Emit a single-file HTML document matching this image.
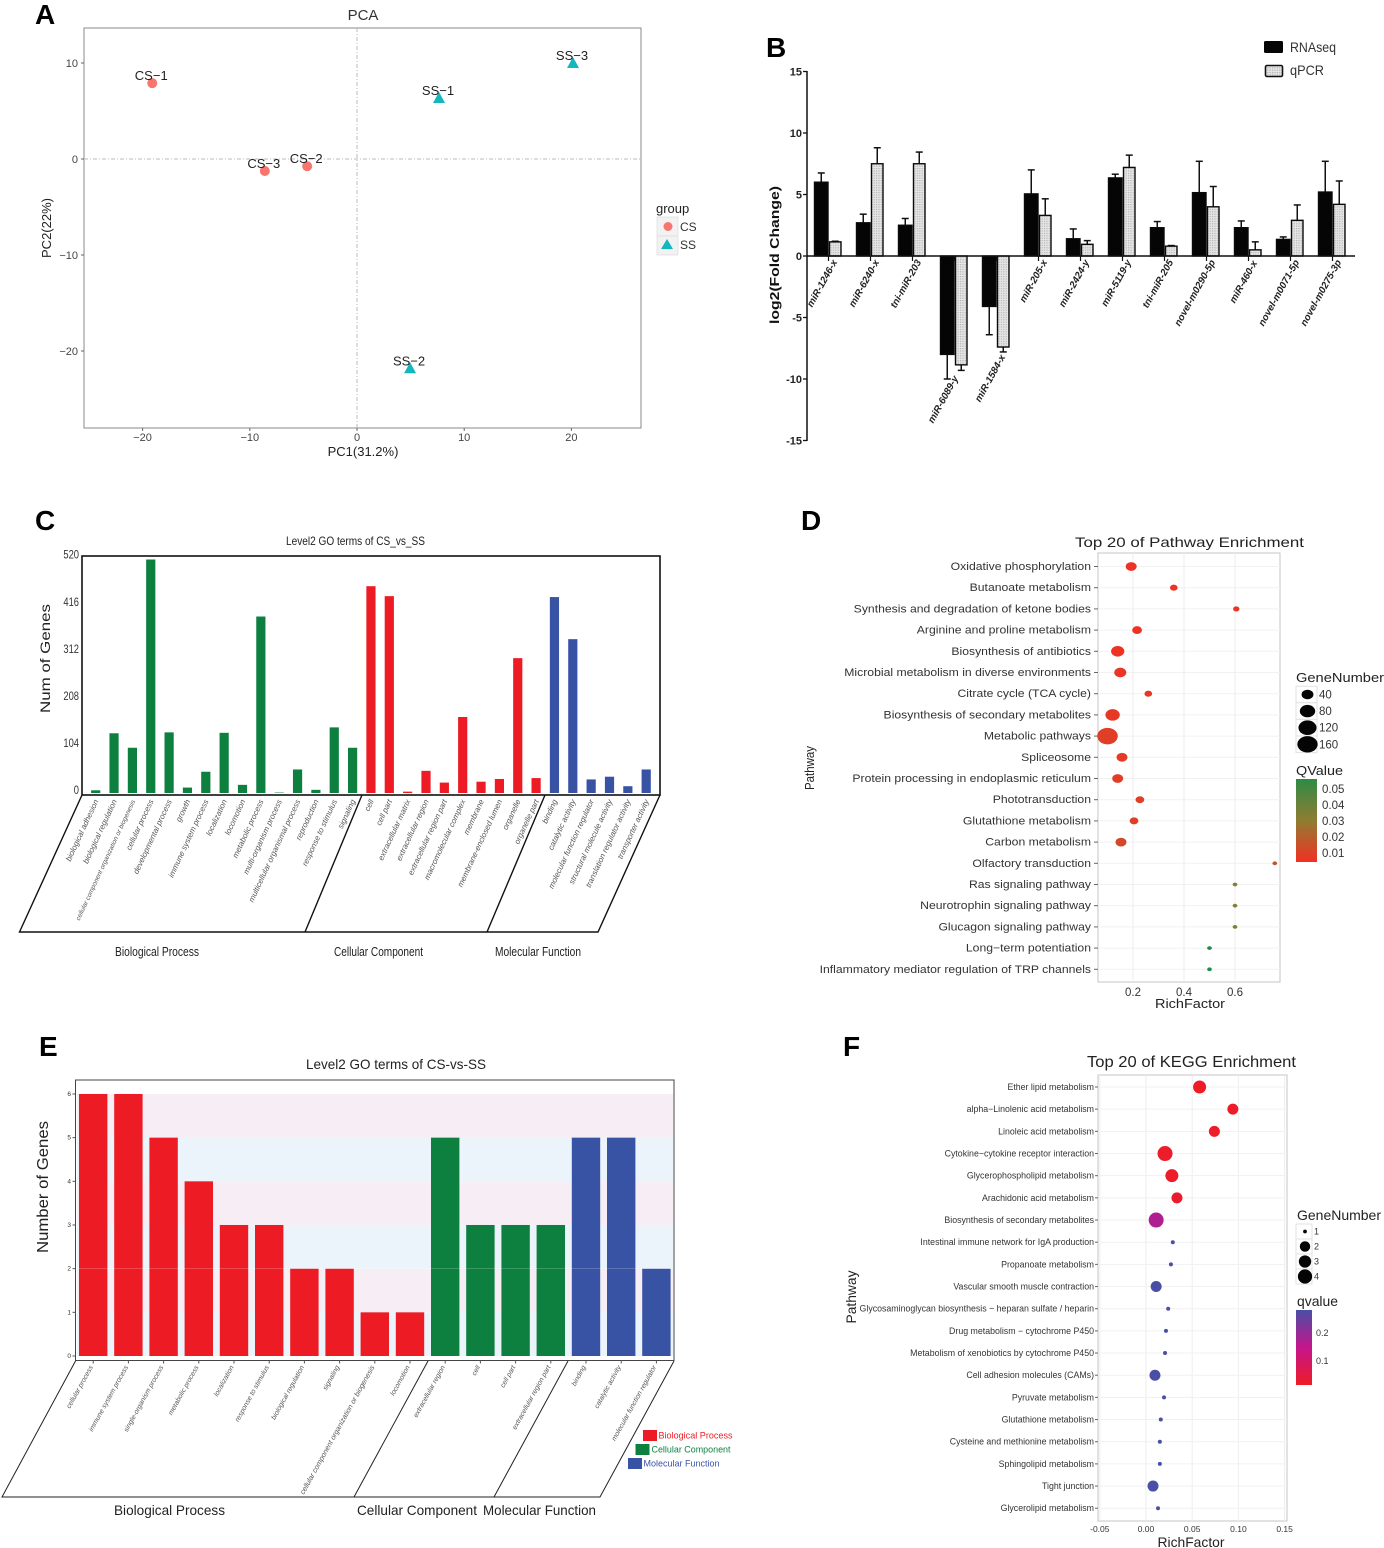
<!DOCTYPE html>
<html lang="en">
<head>
<meta charset="utf-8">
<title>Transcriptome figure panels A-F</title>
<style>
html,body{margin:0;padding:0;background:#fff;width:1384px;height:1548px;overflow:hidden}
svg{display:block;font-family:"Liberation Sans",sans-serif;filter:blur(0.35px)}
.panel-letter{font-size:28px;font-weight:bold;fill:#000}
</style>
</head>
<body>
<svg id="figure" xmlns="http://www.w3.org/2000/svg" width="1384" height="1548" viewBox="0 0 1384 1548">
<defs>
<pattern id="hatch" width="2.4" height="2.4" patternUnits="userSpaceOnUse"><rect width="2.4" height="2.4" fill="#e6e6e6"/><rect width="1.2" height="1.2" fill="#b4b4b4"/></pattern>
<linearGradient id="qgrad-d" x1="0" y1="0" x2="0" y2="1"><stop offset="0" stop-color="#2e8b45"/><stop offset="0.5" stop-color="#8f7d32"/><stop offset="1" stop-color="#f23024"/></linearGradient>
<linearGradient id="qgrad-f" x1="0" y1="0" x2="0" y2="1"><stop offset="0" stop-color="#4a4fa5"/><stop offset="0.5" stop-color="#c5158c"/><stop offset="1" stop-color="#ee1c25"/></linearGradient>
</defs>

<!-- Panel letters -->
<text class="panel-letter" x="35" y="24">A</text>
<text class="panel-letter" x="766" y="57">B</text>
<text class="panel-letter" x="35" y="530">C</text>
<text class="panel-letter" x="801" y="530">D</text>
<text class="panel-letter" x="39" y="1056">E</text>
<text class="panel-letter" x="843" y="1056">F</text>

<!-- Panel A -->
<g id="panel-a">
<text x="363" y="20" text-anchor="middle" font-size="15" fill="#333">PCA</text>
<rect x="84" y="28" width="557" height="400" fill="#fff" stroke="#8a8a8a" stroke-width="1"/>
<line x1="357" y1="28" x2="357" y2="428" stroke="#bbb" stroke-width="1" stroke-dasharray="4 2 1 2"/>
<line x1="84" y1="159" x2="641" y2="159" stroke="#bbb" stroke-width="1" stroke-dasharray="4 2 1 2"/>
<text x="363" y="456" text-anchor="middle" font-size="13" fill="#222">PC1(31.2%)</text>
<text x="51" y="228" text-anchor="middle" font-size="13" fill="#222" transform="rotate(-90 51 228)">PC2(22%)</text>
<text x="656" y="213" font-size="13" fill="#222">group</text>
<rect x="657" y="217" width="21" height="19" fill="#f2f2f2" stroke="#ddd" stroke-width="0.7"/>
<rect x="657" y="236" width="21" height="19" fill="#f2f2f2" stroke="#ddd" stroke-width="0.7"/>
<circle cx="668" cy="226.5" r="4.5" fill="#f8766d"/>
<polygon points="667,239 673,249 661,249" fill="#12b8bd"/>
<text x="680" y="231" font-size="12" fill="#333">CS</text>
<text x="680" y="249" font-size="12" fill="#333">SS</text>
</g>

<!-- Panel B -->
<g id="panel-b">
<text x="779" y="255" text-anchor="middle" font-size="13" font-weight="bold" fill="#111" textLength="138" lengthAdjust="spacingAndGlyphs" transform="rotate(-90 779 255)">log2(Fold Change)</text>
<line x1="807" y1="71" x2="807" y2="441" stroke="#111" stroke-width="1.5"/>
<rect x="1264" y="41" width="19" height="12" rx="1.5" fill="#050505"/>
<rect x="1265.5" y="65.5" width="17" height="11" rx="1.5" fill="url(#hatch)" stroke="#111" stroke-width="1.6"/>
<text x="1290" y="52" font-size="14" fill="#333" textLength="46" lengthAdjust="spacingAndGlyphs">RNAseq</text>
<text x="1290" y="75" font-size="14" fill="#333" textLength="34" lengthAdjust="spacingAndGlyphs">qPCR</text>
</g>

<!-- Panel C -->
<g id="panel-c">
<text x="355.5" y="545" text-anchor="middle" font-size="12" fill="#222" textLength="139" lengthAdjust="spacingAndGlyphs">Level2 GO terms of CS_vs_SS</text>
<rect x="82" y="556" width="578" height="239" fill="#fff" stroke="#111" stroke-width="1.6"/>
<text x="50" y="658.5" text-anchor="middle" font-size="14" fill="#222" textLength="109" lengthAdjust="spacingAndGlyphs" transform="rotate(-90 50 658.5)">Num of Genes</text>
<polyline points="82,795 19.5,932 598,932 660,795" fill="none" stroke="#111" stroke-width="1.4"/>
<line x1="305" y1="932" x2="362" y2="795" stroke="#111" stroke-width="1.4"/>
<line x1="487" y1="932" x2="545" y2="795" stroke="#111" stroke-width="1.4"/>
<text x="157" y="956" text-anchor="middle" font-size="13" fill="#222" textLength="84" lengthAdjust="spacingAndGlyphs">Biological Process</text>
<text x="378.5" y="956" text-anchor="middle" font-size="13" fill="#222" textLength="89" lengthAdjust="spacingAndGlyphs">Cellular Component</text>
<text x="538" y="956" text-anchor="middle" font-size="13" fill="#222" textLength="86" lengthAdjust="spacingAndGlyphs">Molecular Function</text>
</g>

<!-- Panel D -->
<g id="panel-d">
<text x="1189.5" y="547" text-anchor="middle" font-size="14" fill="#222" textLength="229" lengthAdjust="spacingAndGlyphs">Top 20 of Pathway Enrichment</text>
<rect x="1098" y="553" width="182" height="429" fill="#fff" stroke="#c4c4c4" stroke-width="1"/>
<text x="814" y="768" text-anchor="middle" font-size="13" fill="#222" textLength="44" lengthAdjust="spacingAndGlyphs" transform="rotate(-90 814 768)">Pathway</text>
<text x="1190" y="1008" text-anchor="middle" font-size="13" fill="#222" textLength="70" lengthAdjust="spacingAndGlyphs">RichFactor</text>
<text x="1296" y="682" font-size="13" fill="#222" textLength="88" lengthAdjust="spacingAndGlyphs">GeneNumber</text>
<text x="1296" y="775" font-size="13" fill="#222" textLength="47" lengthAdjust="spacingAndGlyphs">QValue</text>
<rect x="1296" y="779" width="21" height="83" fill="url(#qgrad-d)"/>
</g>

<!-- Panel E -->
<g id="panel-e">
<text x="396" y="1069" text-anchor="middle" font-size="14" fill="#222" textLength="180" lengthAdjust="spacingAndGlyphs">Level2 GO terms of CS-vs-SS</text>
<rect x="75.5" y="1080" width="598.5" height="280.5" fill="#fff" stroke="#444" stroke-width="1"/>
<text x="48" y="1187" text-anchor="middle" font-size="15.5" fill="#222" textLength="132" lengthAdjust="spacingAndGlyphs" transform="rotate(-90 48 1187)">Number of Genes</text>
<polyline points="75.5,1361 2,1497 600,1497 674,1361" fill="none" stroke="#222" stroke-width="1"/>
<line x1="354" y1="1497" x2="428" y2="1361" stroke="#222" stroke-width="1"/>
<line x1="494" y1="1497" x2="568" y2="1361" stroke="#222" stroke-width="1"/>
<text x="169.5" y="1515" text-anchor="middle" font-size="14" fill="#222" textLength="111" lengthAdjust="spacingAndGlyphs">Biological Process</text>
<text x="417" y="1515" text-anchor="middle" font-size="14" fill="#222" textLength="120" lengthAdjust="spacingAndGlyphs">Cellular Component</text>
<text x="539.5" y="1515" text-anchor="middle" font-size="14" fill="#222" textLength="113" lengthAdjust="spacingAndGlyphs">Molecular Function</text>
<rect x="643" y="1430" width="14" height="11" fill="#ed1c24"/>
<rect x="635.5" y="1444" width="14" height="11" fill="#0d8040"/>
<rect x="628" y="1458" width="14" height="11" fill="#3953a4"/>
<text x="658.5" y="1438.5" font-size="9.5" fill="#ed1c24" textLength="74" lengthAdjust="spacingAndGlyphs">Biological Process</text>
<text x="651.5" y="1452.5" font-size="9.5" fill="#0d8040" textLength="79" lengthAdjust="spacingAndGlyphs">Cellular Component</text>
<text x="643.5" y="1466.5" font-size="9.5" fill="#3953a4" textLength="76" lengthAdjust="spacingAndGlyphs">Molecular Function</text>
</g>

<!-- Panel F -->
<g id="panel-f">
<text x="1191.5" y="1067" text-anchor="middle" font-size="16" fill="#222" textLength="209" lengthAdjust="spacingAndGlyphs">Top 20 of KEGG Enrichment</text>
<rect x="1098" y="1075" width="189" height="446" fill="#fff" stroke="#c4c4c4" stroke-width="1"/>
<text x="856" y="1297" text-anchor="middle" font-size="14" fill="#222" textLength="53" lengthAdjust="spacingAndGlyphs" transform="rotate(-90 856 1297)">Pathway</text>
<text x="1191" y="1547" text-anchor="middle" font-size="14" fill="#222" textLength="67" lengthAdjust="spacingAndGlyphs">RichFactor</text>
<text x="1297" y="1220" font-size="14" fill="#222" textLength="84" lengthAdjust="spacingAndGlyphs">GeneNumber</text>
<text x="1297" y="1306" font-size="14" fill="#222" textLength="41" lengthAdjust="spacingAndGlyphs">qvalue</text>
<rect x="1296" y="1310" width="16" height="75" fill="url(#qgrad-f)"/>
</g>
</svg>

<script>
// ---------- Panel A data ----------
var pcaLabels = ['CS\u22121', 'CS\u22122', 'CS\u22123', 'SS\u22121', 'SS\u22122', 'SS\u22123'];
var pcaGroups = ['CS', 'CS', 'CS', 'SS', 'SS', 'SS'];
var pcaPc1 = [-19.1, -4.65, -8.6, 7.65, 4.95, 20.15];
var pcaPc2 = [7.9, -0.75, -1.25, 6.35, -21.8, 10];
var pcaXTicks = [-20, -10, 0, 10, 20];
var pcaYTicks = [-20, -10, 0, 10];

// ---------- Panel B data ----------
var mirLabels = ['miR-1246-x', 'miR-6240-x', 'tni-miR-203', 'miR-6089-y', 'miR-1584-x', 'miR-205-x', 'miR-2424-y', 'miR-5119-y', 'tni-miR-205', 'novel-m0290-5p', 'miR-460-x', 'novel-m0071-5p', 'novel-m0275-3p'];
var rnaseqValues = [6.0, 2.7, 2.5, -8.0, -4.1, 5.05, 1.4, 6.35, 2.3, 5.15, 2.3, 1.35, 5.2];
var rnaseqErrors = [0.75, 0.7, 0.55, 2.0, 2.3, 1.95, 0.8, 0.3, 0.5, 2.55, 0.55, 0.2, 2.5];
var qpcrValues = [1.15, 7.5, 7.5, -8.85, -7.4, 3.3, 0.95, 7.2, 0.8, 4.0, 0.5, 2.9, 4.2];
var qpcrErrors = [0.05, 1.3, 0.95, 0.45, 0.4, 1.35, 0.3, 1.0, 0.05, 1.65, 0.65, 1.25, 1.9];
var foldTicks = [15, 10, 5, 0, -5, -10, -15];

// ---------- Panel C data ----------
var goCTerms = ['biological adhesion', 'biological regulation', 'cellular component organization or biogenesis', 'cellular process', 'developmental process', 'growth', 'immune system process', 'localization', 'locomotion', 'metabolic process', 'multi-organism process', 'multicellular organismal process', 'reproduction', 'response to stimulus', 'signaling', 'cell', 'cell part', 'extracellular matrix', 'extracellular region', 'extracellular region part', 'macromolecular complex', 'membrane', 'membrane-enclosed lumen', 'organelle', 'organelle part', 'binding', 'catalytic activity', 'molecular function regulator', 'structural molecule activity', 'translation regulator activity', 'transporter activity'];
var goCGroups = ['BP', 'BP', 'BP', 'BP', 'BP', 'BP', 'BP', 'BP', 'BP', 'BP', 'BP', 'BP', 'BP', 'BP', 'BP', 'CC', 'CC', 'CC', 'CC', 'CC', 'CC', 'CC', 'CC', 'CC', 'CC', 'MF', 'MF', 'MF', 'MF', 'MF', 'MF'];
var goCCounts = [6, 132, 100, 516, 134, 12, 47, 133, 18, 390, 1, 52, 7, 145, 100, 457, 435, 3, 49, 23, 168, 25, 31, 298, 33, 433, 340, 30, 36, 15, 52];
var goCTicks = [0, 104, 208, 312, 416, 520];

// ---------- Panel D data ----------
var pathwayNames = ['Oxidative phosphorylation', 'Butanoate metabolism', 'Synthesis and degradation of ketone bodies', 'Arginine and proline metabolism', 'Biosynthesis of antibiotics', 'Microbial metabolism in diverse environments', 'Citrate cycle (TCA cycle)', 'Biosynthesis of secondary metabolites', 'Metabolic pathways', 'Spliceosome', 'Protein processing in endoplasmic reticulum', 'Phototransduction', 'Glutathione metabolism', 'Carbon metabolism', 'Olfactory transduction', 'Ras signaling pathway', 'Neurotrophin signaling pathway', 'Glucagon signaling pathway', 'Long\u2212term potentiation', 'Inflammatory mediator regulation of TRP channels'];
var pathwayRich = [0.193, 0.36, 0.605, 0.216, 0.14, 0.15, 0.26, 0.12, 0.10, 0.157, 0.14, 0.227, 0.204, 0.153, 0.756, 0.6, 0.6, 0.6, 0.5, 0.5];
var pathwayGenes = [32, 10, 5, 23, 54, 42, 10, 67, 165, 32, 32, 16, 16, 32, 1, 1, 1, 1, 1, 1];
var pathwayQ = [0.001, 0.001, 0.001, 0.001, 0.001, 0.002, 0.002, 0.003, 0.005, 0.004, 0.004, 0.005, 0.005, 0.009, 0.012, 0.03, 0.03, 0.031, 0.055, 0.055];
var pathwayXTicks = [0.2, 0.4, 0.6];
var pathwaySizeLegend = [40, 80, 120, 160];
var pathwayQTicks = [0.05, 0.04, 0.03, 0.02, 0.01];

// ---------- Panel E data ----------
var goETerms = ['cellular process', 'immune system process', 'single-organism process', 'metabolic process', 'localization', 'response to stimulus', 'biological regulation', 'signaling', 'cellular component organization or biogenesis', 'locomotion', 'extracellular region', 'cell', 'cell part', 'extracellular region part', 'binding', 'catalytic activity', 'molecular function regulator'];
var goEGroups = ['BP', 'BP', 'BP', 'BP', 'BP', 'BP', 'BP', 'BP', 'BP', 'BP', 'CC', 'CC', 'CC', 'CC', 'MF', 'MF', 'MF'];
var goECounts = [6, 6, 5, 4, 3, 3, 2, 2, 1, 1, 5, 3, 3, 3, 5, 5, 2];
var goETicks = [0, 1, 2, 3, 4, 5, 6];

// ---------- Panel F data ----------
var keggNames = ['Ether lipid metabolism', 'alpha\u2212Linolenic acid metabolism', 'Linoleic acid metabolism', 'Cytokine\u2212cytokine receptor interaction', 'Glycerophospholipid metabolism', 'Arachidonic acid metabolism', 'Biosynthesis of secondary metabolites', 'Intestinal immune network for IgA production', 'Propanoate metabolism', 'Vascular smooth muscle contraction', 'Glycosaminoglycan biosynthesis \u2212 heparan sulfate / heparin', 'Drug metabolism \u2212 cytochrome P450', 'Metabolism of xenobiotics by cytochrome P450', 'Cell adhesion molecules (CAMs)', 'Pyruvate metabolism', 'Glutathione metabolism', 'Cysteine and methionine metabolism', 'Sphingolipid metabolism', 'Tight junction', 'Glycerolipid metabolism'];
var keggRich = [0.058, 0.094, 0.074, 0.0206, 0.028, 0.0335, 0.011, 0.029, 0.027, 0.011, 0.024, 0.0216, 0.0206, 0.0097, 0.0195, 0.016, 0.015, 0.015, 0.0076, 0.013];
var keggGenes = [3, 2, 2, 4, 3, 2, 4, 1, 1, 2, 1, 1, 1, 2, 1, 1, 1, 1, 2, 1];
var keggQ = [0.003, 0.005, 0.005, 0.008, 0.008, 0.012, 0.17, 0.27, 0.27, 0.27, 0.27, 0.27, 0.27, 0.27, 0.27, 0.27, 0.27, 0.27, 0.27, 0.27];
var keggXTicks = [-0.05, 0, 0.05, 0.10, 0.15];
var keggSizeLegend = [1, 2, 3, 4];
var keggQTicks = [0.2, 0.1];

// ---------- helpers ----------
var NS = 'http://www.w3.org/2000/svg';
function mk(tag, parent, attrs, txt) {
  var n = document.createElementNS(NS, tag);
  for (var k in attrs) { n.setAttribute(k, attrs[k]); }
  if (txt !== undefined) { n.textContent = txt; }
  parent.appendChild(n);
  return n;
}
function first(sel) { return document.querySelector(sel); }
function hex(c) { return [parseInt(c.substr(1, 2), 16), parseInt(c.substr(3, 2), 16), parseInt(c.substr(5, 2), 16)]; }
function mix(a, b, t) {
  var A = hex(a), B = hex(b);
  t = Math.max(0, Math.min(1, t));
  return 'rgb(' + Math.round(A[0] + (B[0] - A[0]) * t) + ',' + Math.round(A[1] + (B[1] - A[1]) * t) + ',' + Math.round(A[2] + (B[2] - A[2]) * t) + ')';
}
function groupColorC(g) { return g === 'BP' ? '#0d8040' : (g === 'CC' ? '#ed1c24' : '#3953a4'); }
function groupColorE(g) { return g === 'BP' ? '#ed1c24' : (g === 'CC' ? '#0d8040' : '#3953a4'); }
function minus(v, dp) { var s = Math.abs(v).toFixed(dp); return (v < 0 ? '\u2212' : '') + s; }

// ---------- Panel A ----------
var pA = first('#panel-a');
function pcaX(v) { return 357 + v * 10.72; }
function pcaY(v) { return 159 - v * 9.6; }
pcaXTicks.forEach(function (t) {
  var tk = mk('line', pA, { x1: pcaX(t), x2: pcaX(t), y1: 428, y2: 431, stroke: '#666' });
  
  
  var lb = mk('text', pA, { x: pcaX(t), y: 441, 'text-anchor': 'middle', 'font-size': 11, fill: '#444' }, minus(t, 0));
  
  
});
pcaYTicks.forEach(function (t) {
  var tk = mk('line', pA, { x1: 81, x2: 84, y1: pcaY(t), y2: pcaY(t), stroke: '#666' });
  
  
  var lb = mk('text', pA, { x: 78, y: pcaY(t) + 4, 'text-anchor': 'end', 'font-size': 11, fill: '#444' }, minus(t, 0));
  
  
});
pcaLabels.forEach(function (name, i) {
  var x = pcaX(pcaPc1[i]), y = pcaY(pcaPc2[i]), mark;
  if (pcaGroups[i] === 'CS') {
    mark = mk('circle', pA, { cx: x, cy: y, r: 5, fill: '#f8766d' });
  } else {
    mark = mk('polygon', pA, { points: x + ',' + (y - 6) + ' ' + (x + 6) + ',' + (y + 5) + ' ' + (x - 6) + ',' + (y + 5), fill: '#12b8bd' });
  }
  
  
  var lb = mk('text', pA, { x: x - 1, y: y - 3, 'text-anchor': 'middle', 'font-size': 13, fill: '#222' }, name);
  
  
});

// ---------- Panel B ----------
var pB = first('#panel-b');
function foldY(v) { return 256 - v * 12.3; }
function foldX(i) { return 828.5 + i * 42; }
foldTicks.forEach(function (t) {
  var tk = mk('line', pB, { x1: 803, x2: 807, y1: foldY(t), y2: foldY(t), stroke: '#111', 'stroke-width': 1.3 });
  
  
  var lb = mk('text', pB, { x: 802, y: foldY(t) + 4, 'text-anchor': 'end', 'font-size': 11, 'font-weight': 'bold', fill: '#222' }, String(t));
  
  
});
mirLabels.forEach(function (name, i) {
  var c = foldX(i);
  function drawBar(x, w, v, e, fill, nm) {
    var y0 = foldY(0), y1 = foldY(v), tip = foldY(v + (v < 0 ? -e : e));
    var er = mk('line', pB, { x1: x + w / 2, x2: x + w / 2, y1: y1, y2: tip, stroke: '#111', 'stroke-width': 1.5 });
    
    
    var cp = mk('line', pB, { x1: x + w / 2 - 3.5, x2: x + w / 2 + 3.5, y1: tip, y2: tip, stroke: '#111', 'stroke-width': 1.5 });
    
    
    var bar = mk('rect', pB, { x: x, y: Math.min(y0, y1), width: w, height: Math.abs(y1 - y0), fill: fill, stroke: '#0a0a0a', 'stroke-width': 1.4 });
    
    
  }
  drawBar(c - 14, 13.5, rnaseqValues[i], rnaseqErrors[i], '#050505', 'rnaseq');
  drawBar(c + 1, 11.5, qpcrValues[i], qpcrErrors[i], 'url(#hatch)', 'qpcr');
  var low = Math.min(0, rnaseqValues[i] - rnaseqErrors[i], qpcrValues[i] - qpcrErrors[i]);
  var ly = low < -9 ? foldY(low) - 1 : (low < 0 ? foldY(low) + 5 : 262);
  var lx = low < -9 ? c + 4 : c + 9;
  var lb = mk('text', pB, { x: lx, y: ly, 'text-anchor': 'end', 'font-size': 9.8, 'font-style': 'italic', 'font-weight': 'bold', fill: '#222', transform: 'rotate(-61 ' + lx + ' ' + ly + ')' }, name);
  
  
  var tk = mk('line', pB, { x1: c, x2: c, y1: 256, y2: 261, stroke: '#111', 'stroke-width': 1.2 });
  
  
});
var foldAxis = mk('line', pB, { x1: 807, x2: 1355, y1: 256, y2: 256, stroke: '#111', 'stroke-width': 1.6 });



// ---------- Panel C ----------
var pC = first('#panel-c');
function goCX(i) { return 95.7 + i * 18.35; }
function goCH(v) { return v * 0.4525; }
goCTicks.forEach(function (t) {
  var lb = mk('text', pC, { x: 79, y: 793 - goCH(t) + 1, 'text-anchor': 'end', 'font-size': 11.5, fill: '#333', textLength: String(t).length * 5.2, lengthAdjust: 'spacingAndGlyphs' }, String(t));
  
  
});
goCTerms.forEach(function (term, i) {
  var x = goCX(i), h = goCH(goCCounts[i]);
  var bar = mk('rect', pC, { x: x - 4.6, y: 793 - h, width: 9.2, height: h, fill: groupColorC(goCGroups[i]) });
  
  
  var ax = x + 3, ay = 801;
  var lb = mk('text', pC, { x: ax, y: ay, 'text-anchor': 'end', 'font-size': term.length > 40 ? 6.5 : 7.9, 'font-style': 'italic', fill: '#555', transform: 'rotate(-65 ' + ax + ' ' + ay + ')' }, term);
  
  
});

// ---------- Panel D ----------
var pD = first('#panel-d');
function richX(v) { return 1082 + v * 255; }
function rowYD(i) { return 566.5 + i * 21.2; }
function sizeD(g) { return 1.5 + 0.6 * Math.sqrt(g); }
function colorD(q) {
  var t = q / 0.055;
  return t < 0.5 ? mix('#f23024', '#8f7d32', t * 2) : mix('#8f7d32', '#1d8c47', (t - 0.5) * 2);
}
pathwayXTicks.forEach(function (t) {
  var g = mk('line', pD, { x1: richX(t), x2: richX(t), y1: 553, y2: 982, stroke: '#eeeeee', 'stroke-width': 1 });
  
  
  var lb = mk('text', pD, { x: richX(t), y: 996, 'text-anchor': 'middle', 'font-size': 11.5, fill: '#333' }, t.toFixed(1));
  
  
});
pathwayNames.forEach(function (name, i) {
  var y = rowYD(i);
  var g = mk('line', pD, { x1: 1098, x2: 1280, y1: y, y2: y, stroke: '#f1f1f1', 'stroke-width': 1 });
  
  
  var tk = mk('line', pD, { x1: 1094, x2: 1098, y1: y, y2: y, stroke: '#666' });
  
  
  var lb = mk('text', pD, { x: 0, y: 0, 'text-anchor': 'end', 'font-size': 10.8, fill: '#333', transform: 'translate(1091 ' + (y + 3.5) + ') scale(1.13 1)' }, name);
  
  
});
pathwayNames.forEach(function (name, i) {
  var r = sizeD(pathwayGenes[i]);
  var pt = mk('ellipse', pD, { cx: richX(pathwayRich[i]), cy: rowYD(i), rx: r * 1.12, ry: r * 0.9, fill: colorD(pathwayQ[i]) });
  
  
});
pathwaySizeLegend.forEach(function (g, i) {
  var y = 694.5 + i * 16.6, r = sizeD(g);
  var key = mk('rect', pD, { x: 1296, y: y - 8.3, width: 21, height: 16.6, fill: '#fff', stroke: '#e2e2e2', 'stroke-width': 1 });
  
  
  var dot = mk('ellipse', pD, { cx: 1307.5, cy: y, rx: r * 1.12, ry: r * 0.9, fill: '#050505' });
  
  
  var lb = mk('text', pD, { x: 1319, y: y + 4, 'font-size': 11.5, fill: '#333' }, String(g));
  
  
});
pathwayQTicks.forEach(function (q) {
  var y = 853 - (q - 0.01) * 1600;
  var lb = mk('text', pD, { x: 1322, y: y + 4, 'font-size': 11.5, fill: '#333' }, q.toFixed(2));
  
  
});

// ---------- Panel E ----------
var pE = first('#panel-e');
function goEX(i) { return 93.2 + i * 35.2; }
function goEY(v) { return 1356 - v * 43.67; }
goETicks.forEach(function (t) {
  if (t > 0) {
    var band = mk('rect', pE, { x: 77, y: goEY(t), width: 596, height: 43.67, fill: t % 2 === 0 ? '#f7edf5' : '#ecf4fb' });
    
    
  }
  var tk = mk('line', pE, { x1: 72.5, x2: 75.5, y1: goEY(t), y2: goEY(t), stroke: '#555' });
  
  
  var lb = mk('text', pE, { x: 71, y: goEY(t) + 2, 'text-anchor': 'end', 'font-size': 6.5, fill: '#333' }, String(t));
  
  
});
goETerms.forEach(function (term, i) {
  var x = goEX(i);
  var bar = mk('rect', pE, { x: x - 14.2, y: goEY(goECounts[i]), width: 28.4, height: goEY(0) - goEY(goECounts[i]), fill: groupColorE(goEGroups[i]) });
  
  
  var tk = mk('line', pE, { x1: x, x2: x, y1: 1360.5, y2: 1363.5, stroke: '#555' });
  
  
  var ax = x, ay = 1367;
  var lb = mk('text', pE, { x: ax, y: ay, 'text-anchor': 'end', 'font-size': term.length > 40 ? 7.2 : 6.9, 'font-style': 'italic', fill: '#555', transform: 'rotate(-61 ' + ax + ' ' + ay + ')' }, term);
  
  
});
var goELine = mk('line', pE, { x1: 76, x2: 673, y1: goEY(2), y2: goEY(2), stroke: '#fff', 'stroke-width': 0.6, 'stroke-opacity': 0.3 });



// ---------- Panel F ----------
var pF = first('#panel-f');
function keggX(v) { return 1146 + v * 924; }
function rowYF(i) { return 1087 + i * 22.17; }
var keggRadii = [0, 2, 5.5, 6.5, 7.5];
function sizeF(g) { return keggRadii[Math.round(g)] || 2; }
function colorF(q) {
  return q < 0.15 ? mix('#ee1c25', '#c5158c', q / 0.15) : mix('#c5158c', '#4a4fa5', (q - 0.15) / 0.12);
}
keggXTicks.forEach(function (t) {
  var g = mk('line', pF, { x1: keggX(t), x2: keggX(t), y1: 1075, y2: 1521, stroke: '#eeeeee', 'stroke-width': 1 });
  
  
  var lb = mk('text', pF, { x: keggX(t), y: 1532, 'text-anchor': 'middle', 'font-size': 8.5, fill: '#333' }, t.toFixed(2));
  
  
});
keggNames.forEach(function (name, i) {
  var y = rowYF(i);
  var g = mk('line', pF, { x1: 1098, x2: 1287, y1: y, y2: y, stroke: '#f1f1f1', 'stroke-width': 1 });
  
  
  var tk = mk('line', pF, { x1: 1095, x2: 1098, y1: y, y2: y, stroke: '#666' });
  
  
  var lb = mk('text', pF, { x: 1094, y: y + 3, 'text-anchor': 'end', 'font-size': 8.8, fill: '#333' }, name);
  
  
});
keggNames.forEach(function (name, i) {
  var pt = mk('circle', pF, { cx: keggX(keggRich[i]), cy: rowYF(i), r: sizeF(keggGenes[i]), fill: colorF(keggQ[i]) });
  
  
});
keggSizeLegend.forEach(function (g, i) {
  var y = 1231.5 + i * 15;
  var key = mk('rect', pF, { x: 1296, y: y - 7.5, width: 16, height: 15, fill: '#fff', stroke: '#e2e2e2', 'stroke-width': 1 });
  
  
  var dot = mk('circle', pF, { cx: 1305, cy: y, r: sizeF(g) * 0.95, fill: '#050505' });
  
  
  var lb = mk('text', pF, { x: 1314, y: y + 3, 'font-size': 9, fill: '#333' }, String(g));
  
  
});
keggQTicks.forEach(function (q) {
  var y = 1361 - (q - 0.1) * 280;
  var lb = mk('text', pF, { x: 1316, y: y + 3, 'font-size': 9, fill: '#333' }, q.toFixed(1));
  
  
});
</script>
</body>
</html>
